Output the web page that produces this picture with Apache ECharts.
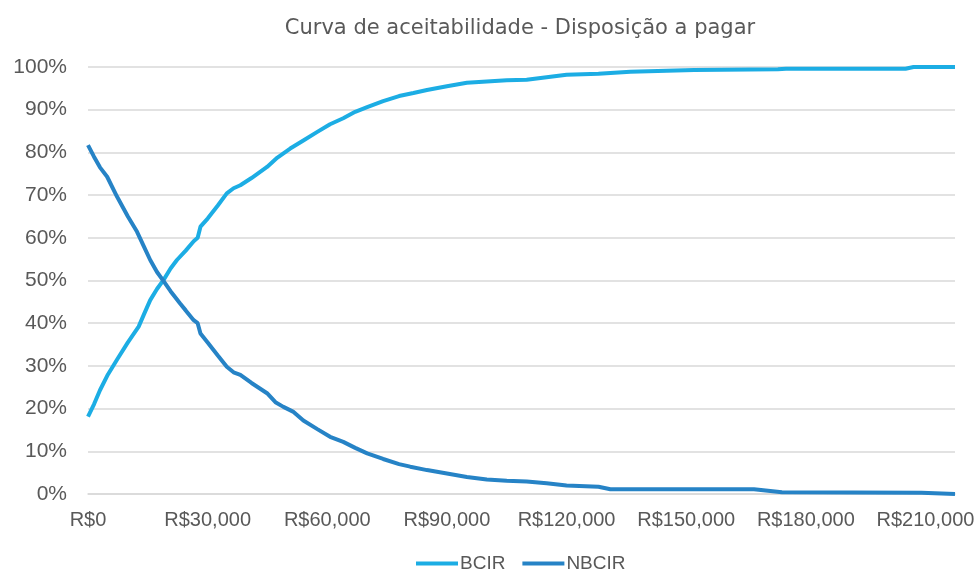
<!DOCTYPE html>
<html>
<head>
<meta charset="utf-8">
<script src="https://cdn.jsdelivr.net/npm/echarts@6/dist/echarts.min.js"></script>
<style>
  html, body { margin: 0; padding: 0; background: #fff; }
  #chart { width: 976px; height: 572px; }
</style>
</head>
<body>
<div id="chart"></div>
<script>
// valores: [preço R$, % acumulado]
const bcir = [
  [0, 18.1], [1500, 21], [3000, 24.3], [5000, 28], [7300, 31.5], [10000, 35.5],
  [12700, 39.2], [14000, 42], [15600, 45.4], [17300, 48], [19000, 50.2], [20700, 52.8],
  [22300, 54.8], [24500, 57], [26500, 59.2], [27500, 60], [28200, 62.6], [30000, 64.5],
  [32500, 67.5], [34800, 70.4], [36500, 71.6], [38200, 72.3], [41000, 74], [44900, 76.6],
  [47500, 78.8], [50700, 80.9], [54000, 82.8], [57500, 84.8], [60700, 86.6], [64000, 88],
  [67000, 89.5], [70000, 90.6], [74000, 92], [78000, 93.2], [81600, 93.9], [85000, 94.6],
  [90000, 95.5], [95000, 96.3], [100000, 96.6], [105000, 96.9], [110000, 97.0], [115000, 97.6],
  [120000, 98.2], [128000, 98.4], [136000, 98.9], [152000, 99.3], [173000, 99.5], [175000, 99.6],
  [205000, 99.6], [207000, 100], [217400, 100]
]
const nbcir = [
  [0, 81.7], [1500, 79], [3000, 76.5], [4800, 74.3], [7300, 69.6], [10000, 65],
  [12300, 61.4], [14000, 58], [15600, 54.8], [17300, 52], [19000, 49.8], [20700, 47.5],
  [23100, 44.6], [24500, 43], [26500, 40.7], [27500, 40], [28200, 37.6], [30000, 35.5],
  [32500, 32.5], [34800, 29.8], [36500, 28.5], [38200, 27.9], [41000, 26], [44900, 23.6],
  [47000, 21.5], [49000, 20.4], [51400, 19.3], [54000, 17.2], [57500, 15.2], [60700, 13.4],
  [64000, 12.2], [67000, 10.8], [70000, 9.5], [74000, 8.2], [78000, 7], [80800, 6.4],
  [85000, 5.6], [90000, 4.8], [95000, 4.0], [100000, 3.4], [105000, 3.1], [110000, 2.9],
  [115000, 2.5], [120000, 2.0], [128000, 1.7], [131000, 1.1], [167000, 1.1], [174000, 0.4],
  [209000, 0.3], [217400, 0]
]
const seriesNames = ['BCIR', 'NBCIR']
const colors = ['#1CADE4', '#2683C6']

const textColor = '#595959'
const labelFont = 'Liberation Sans'
const chart = echarts.init(document.getElementById('chart'))

chart.setOption({
  animation: false,
  title: {
    text: 'Curva de aceitabilidade - Disposição a pagar',
    left: 515,
    top: 13,
    textAlign: 'center',
    textStyle: {
      fontFamily: 'DejaVu Sans',
      fontSize: 21,
      fontWeight: 'normal',
      color: textColor
    }
  },
  legend: {
    data: seriesNames,
    left: 416,
    top: 554,
    padding: 0,
    itemWidth: 42,
    itemHeight: 4,
    itemGap: 17,
    icon: 'rect',
    textStyle: {
      fontFamily: labelFont,
      fontSize: 19,
      lineHeight: 19,
      color: textColor,
      padding: [0, 0, 0, -3]
    }
  },
  grid: {
    left: 88,
    right: 21,
    top: 67,
    bottom: 78,
    outerBoundsMode: 'none'
  },
  xAxis: {
    type: 'value',
    min: 0,
    max: 217400,
    interval: 30000,
    axisLine: { show: true, lineStyle: { color: '#d9d9d9', width: 1.5 } },
    axisTick: { show: false },
    splitLine: { show: false },
    axisLabel: {
      showMaxLabel: false,
      margin: 16,
      fontFamily: labelFont,
      fontSize: 20,
      color: textColor,
      formatter: v => 'R$' + v.toLocaleString('en-US')
    }
  },
  yAxis: {
    type: 'value',
    min: 0,
    max: 100,
    interval: 10,
    axisLine: { show: false },
    axisTick: { show: false },
    splitLine: { lineStyle: { color: '#d9d9d9', width: 1.5 } },
    axisLabel: {
      margin: 21,
      fontFamily: labelFont,
      fontSize: 21,
      color: textColor,
      formatter: '{value}%'
    }
  },
  series: [
    {
      name: seriesNames[0],
      type: 'line',
      data: bcir,
      showSymbol: false,
      smooth: false,
      itemStyle: { color: colors[0] },
      lineStyle: { color: colors[0], width: 4 }
    },
    {
      name: seriesNames[1],
      type: 'line',
      data: nbcir,
      showSymbol: false,
      smooth: false,
      itemStyle: { color: colors[1] },
      lineStyle: { color: colors[1], width: 4 }
    }
  ]
})
</script>
</body>
</html>
